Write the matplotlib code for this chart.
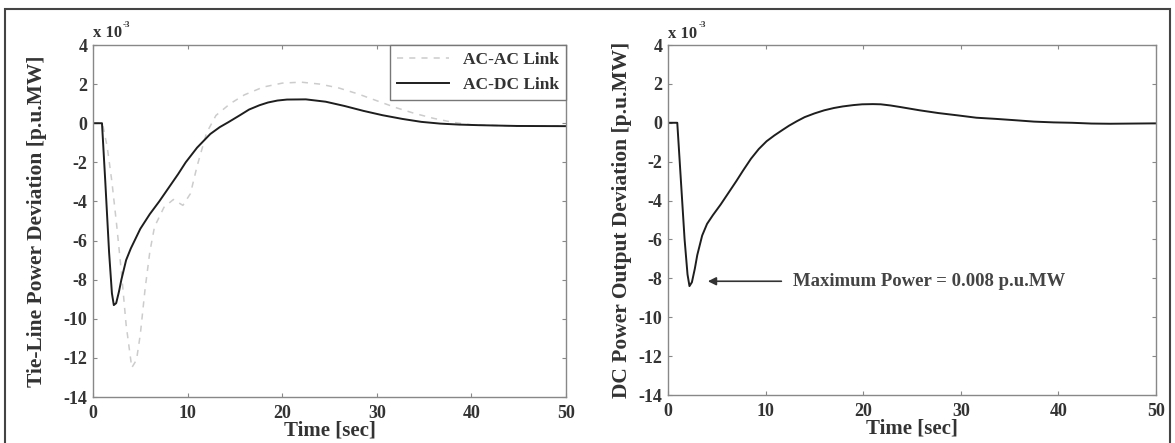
import matplotlib
matplotlib.use("Agg")
import matplotlib.pyplot as plt
from matplotlib.patches import Rectangle

plt.rcParams['font.family'] = ['Liberation Serif', 'DejaVu Serif']
plt.rcParams['font.weight'] = 'bold'
plt.rcParams['axes.labelweight'] = 'bold'
plt.rcParams['axes.unicode_minus'] = False

# Time response after the load step, values in units of 1e-3 p.u.MW
t_acdc = [0, 0.95, 1.3, 1.7, 2.0, 2.2, 2.45, 2.75, 3.0, 3.5, 4.0, 4.4, 5.0, 6.0, 7.0,
          8.0, 9.0, 9.8, 11.0, 12.4, 13.4, 14.3, 15.5, 16.5, 17.6, 18.5, 19.5, 20.5,
          22.5, 24.6, 26.6, 28.6, 30.6, 32.7, 34.7, 36.7, 38.7, 40.8, 42.8, 44.8, 50]
tie_acdc = [0, 0, -3.0, -6.6, -8.7, -9.3, -9.2, -8.6, -8.0, -7.0, -6.4, -6.0, -5.4, -4.65,
            -4.0, -3.3, -2.6, -2.0, -1.25, -0.55, -0.2, 0.05, 0.4, 0.7, 0.92, 1.06, 1.16,
            1.21, 1.22, 1.1, 0.88, 0.63, 0.41, 0.22, 0.07, -0.02, -0.07, -0.1, -0.12,
            -0.14, -0.15]

t_acac = [0, 1.0, 1.5, 2.0, 2.5, 3.0, 3.5, 4.1, 4.6, 5.0, 5.5, 6.0, 6.5, 7.5, 8.5, 9.5,
          10.3, 11.0, 12.0, 13.0, 14.5, 16, 18, 20, 22, 24, 26, 28, 30, 32, 34, 36, 38,
          40, 45, 50]
tie_acac = [0, 0, -1.2, -3.0, -5.2, -7.6, -10.3, -12.5, -12.1, -10.8, -8.5, -6.6, -5.3,
            -4.3, -3.9, -4.2, -3.6, -2.2, -0.5, 0.4, 1.0, 1.45, 1.85, 2.05, 2.1, 2.0, 1.8,
            1.5, 1.15, 0.8, 0.5, 0.25, 0.05, -0.08, -0.15, -0.15]

t_dc = [0, 0.95, 1.3, 1.7, 2.0, 2.2, 2.45, 2.75, 3.0, 3.5, 4.0, 4.6, 5.4, 6.2, 7.0, 7.7,
        8.5, 9.3, 10.1, 10.9, 11.7, 12.4, 13.2, 14.0, 15.0, 16.0, 17.0, 17.9, 19.0, 19.9,
        21.0, 21.8, 22.8, 23.8, 25.8, 27.7, 29.7, 31.6, 33.6, 35.6, 37.5, 39.5, 41.4,
        43.4, 45.3, 50]
dc_power = [0, 0, -2.8, -6.0, -7.8, -8.4, -8.2, -7.5, -6.8, -5.8, -5.2, -4.75, -4.2, -3.6,
            -3.0, -2.45, -1.85, -1.35, -0.95, -0.65, -0.38, -0.15, 0.08, 0.29, 0.48, 0.64,
            0.76, 0.84, 0.91, 0.95, 0.96, 0.95, 0.89, 0.81, 0.64, 0.5, 0.38, 0.26, 0.2,
            0.13, 0.06, 0.02, 0.0, -0.04, -0.05, -0.03]

peak_t, peak_label = 3.8, 'Maximum Power = 0.008 p.u.MW'
xticks = [0, 10, 20, 30, 40, 50]
yticks = [-14, -12, -10, -8, -6, -4, -2, 0, 2, 4]

W, H = 1175, 443
fig = plt.figure(figsize=(W / 100, H / 100), dpi=100)

# outer frame around both panels
fig.patches.append(Rectangle((5 / W, -0.02), 1165 / W, 1.02 - 9 / H, transform=fig.transFigure,
                             fill=False, edgecolor='#444444', linewidth=1.5))

ax1 = fig.add_axes([93 / W, 46 / H, 473 / W, 352 / H])
ax2 = fig.add_axes([668 / W, 48 / H, 488 / W, 350 / H])

ax1.plot(t_acac, tie_acac, color='#cccccc', linewidth=1.1, dashes=(4, 4), label='AC-AC Link')
ax1.plot(t_acdc, tie_acdc, color='#1e1e1e', linewidth=1.4, label='AC-DC Link')
ax2.plot(t_dc, dc_power, color='#1e1e1e', linewidth=1.4)

for ax, ylabel, pad in ((ax1, 'Tie-Line Power Deviation [p.u.MW]', 12),
                        (ax2, 'DC Power Output Deviation [p.u.MW]', 5)):
    ax.set_xlim(0, 50)
    ax.set_ylim(-14, 4)
    ax.set_xticks(xticks)
    ax.set_yticks(yticks)
    ax.tick_params(direction='in', length=3, top=True, right=True, labelsize=13,
                   color='#888888', labelcolor='#333333', pad=4)
    ax.tick_params(axis='x', pad=6)
    for s in ax.spines.values():
        s.set_color('#888888')
        s.set_linewidth(1.0)
    ax.set_xlabel('Time [sec]', fontsize=15, labelpad=-1, color='#333333')
    ax.set_ylabel(ylabel, fontsize=15.5, labelpad=pad, color='#333333')
    ax.text(0, 1.01, 'x 10', transform=ax.transAxes, fontsize=12, ha='left', va='bottom',
            color='#333333')
    ax.text(0.062, 1.045, '-3', transform=ax.transAxes, fontsize=6.5, ha='left',
            va='bottom', color='#333333')

leg = ax1.legend(loc='upper right', borderaxespad=0, fancybox=False, fontsize=12.5,
                 handlelength=3, framealpha=1, edgecolor='#777777')
leg.get_frame().set_linewidth(1.0)
for txt in leg.get_texts():
    txt.set_color('#333333')

ax2.annotate('', xy=(peak_t, -8.15), xytext=(11.9, -8.15),
             arrowprops=dict(arrowstyle='-|>', color='#333333', lw=1.2,
                             mutation_scale=12))
ax2.text(12.8, -8.15, peak_label, fontsize=13.5, va='center', ha='left', color='#444444')

fig.savefig('out.png', dpi=100)
